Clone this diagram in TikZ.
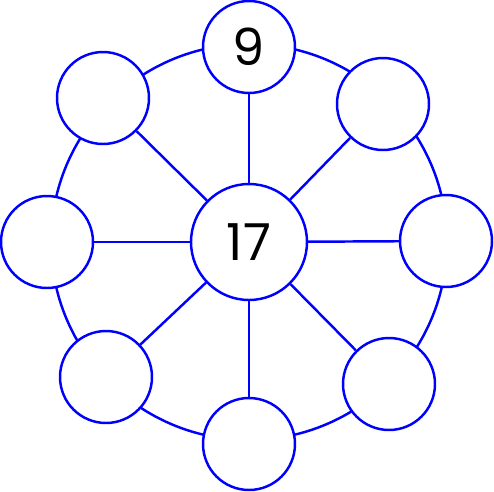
\documentclass[tikz,border=0pt]{standalone}
\usepackage{fontspec}
\setmainfont{Poppins}
\begin{document}
\begin{tikzpicture}[x=0.02cm, y=-0.02cm, line width=1.4pt,
    ring/.style={draw=blue, fill=white, circle, minimum size=1.84cm, inner sep=0pt, font=\fontsize{29}{29}\selectfont},
    hub/.style={ring, minimum size=2.32cm}]
    \useasboundingbox (0,0) rectangle (494,491);

    % Rim
    \coordinate (mid) at (249,242);
    \draw[blue] (mid) circle[radius=3.96cm];

    % Hub
    \node[hub] (hub) at (mid) {17};

    % Outer circles
    \node[ring] (n)  at (249,47)  {9};
    \node[ring] (ne) at (383,104) {};
    \node[ring] (e)  at (446,241) {};
    \node[ring] (se) at (389,384) {};
    \node[ring] (s)  at (249,444) {};
    \node[ring] (sw) at (106,377) {};
    \node[ring] (w)  at (47,242)  {};
    \node[ring] (nw) at (103,98)  {};

    % Spokes
    \foreach \o in {n,ne,e,se,s,sw,w,nw}
        \draw[blue] (hub) -- (\o);
\end{tikzpicture}
\end{document}
